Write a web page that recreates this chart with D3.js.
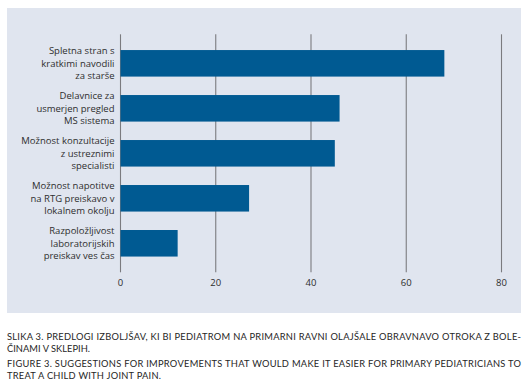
<!DOCTYPE html>
<html>
<head>
<meta charset="utf-8">
<script src="https://cdn.jsdelivr.net/npm/d3@7"></script>
<style>
  body { margin: 0; background: #fff; }
  text { font-family: "Open Sans", "Noto Sans", sans-serif; fill: #2e2e2e; }
  .cap text { font-family: Lato, "Open Sans", sans-serif; fill: #262626; }
</style>
</head>
<body>
<svg width="529" height="385"></svg>
<script>
// categories, each one split in lines the way the figure wraps them
const categories = [
  ['Spletna stran s', 'kratkimi navodili', 'za starše'],
  ['Delavnice za', 'usmerjen pregled', 'MS sistema'],
  ['Možnost konzultacije', 'z ustreznimi', 'specialisti'],
  ['Možnost napotitve', 'na RTG preiskavo v', 'lokalnem okolju'],
  ['Razpoložljivost', 'laboratorijskih', 'preiskav ves čas']
];
const values = [68, 46, 45, 27, 12];
const ticks = [0, 20, 40, 60, 80];
const caption = [
  'SLIKA 3. PREDLOGI IZBOLJŠAV, KI BI PEDIATROM NA PRIMARNI RAVNI OLAJŠALE OBRAVNAVO OTROKA Z BOLE-',
  'ČINAMI V SKLEPIH.',
  'FIGURE 3. SUGGESTIONS FOR IMPROVEMENTS THAT WOULD MAKE IT EASIER FOR PRIMARY PEDIATRICIANS TO',
  'TREAT A CHILD WITH JOINT PAIN.'
];

const svg = d3.select('svg');

// panel
svg.append('rect')
  .attr('x', 7).attr('y', 8)
  .attr('width', 514).attr('height', 305)
  .attr('fill', '#e0e5ef');

const x = d3.scaleLinear().domain([0, 80]).range([120.5, 501.5]);
const y = d3.scaleBand()
  .domain(d3.range(categories.length))
  .range([34.3, 272.3])
  .paddingInner(0.41)
  .paddingOuter(0.35);

// gridlines
svg.append('g')
  .selectAll('line')
  .data(ticks)
  .join('line')
  .attr('x1', d => x(d)).attr('x2', d => x(d))
  .attr('y1', 34.3).attr('y2', 272.3)
  .attr('stroke', '#7b7b7f')
  .attr('stroke-width', 1.1);

// bars
svg.append('g')
  .selectAll('rect')
  .data(values)
  .join('rect')
  .attr('x', x(0))
  .attr('y', (d, i) => y(i))
  .attr('width', d => x(d) - x(0))
  .attr('height', y.bandwidth())
  .attr('fill', '#005a92');

// tick labels
svg.append('g')
  .selectAll('text')
  .data(ticks)
  .join('text')
  .attr('x', d => x(d))
  .attr('y', 286)
  .attr('text-anchor', 'middle')
  .attr('font-size', 9.5)
  .text(d => d);

// category labels
const lab = svg.append('g')
  .selectAll('text')
  .data(categories)
  .join('text')
  .attr('text-anchor', 'end')
  .attr('font-size', 9.5)
  .attr('y', (d, i) => y(i) + y.bandwidth() / 2 - 12.3 + 3.4);

lab.selectAll('tspan')
  .data(d => d)
  .join('tspan')
  .attr('x', 114.5)
  .attr('dy', (d, i) => i === 0 ? 0 : 12.3)
  .text(d => d);

// caption, stretched to the widths seen in the figure
const capWidth = [514, 83, 514, 154];
svg.append('g')
  .attr('class', 'cap')
  .selectAll('text')
  .data(caption)
  .join('text')
  .attr('x', 7)
  .attr('y', (d, i) => [340, 351.7, 367.3, 378.6][i])
  .attr('font-size', 9.3)
  .attr('textLength', (d, i) => capWidth[i])
  .attr('lengthAdjust', 'spacing')
  .text(d => d);
</script>
</body>
</html>
